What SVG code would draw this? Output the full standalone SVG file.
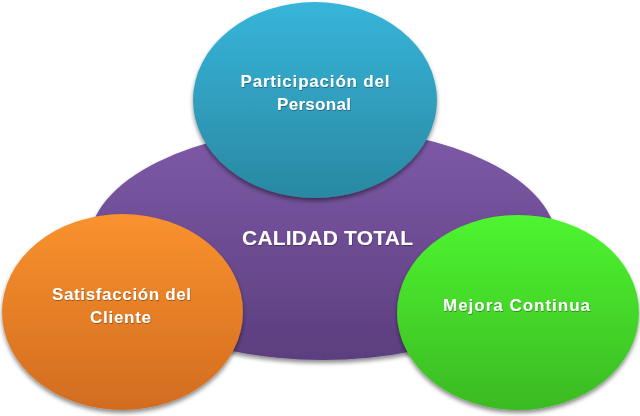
<svg xmlns="http://www.w3.org/2000/svg" width="640" height="416" viewBox="0 0 640 416">
<defs>
<linearGradient id="gPurple" x1="0" y1="0" x2="0" y2="1"><stop offset="0" stop-color="#7E5AA8"/><stop offset="1" stop-color="#5C3E7E"/></linearGradient>
<linearGradient id="gBlue" x1="0" y1="0" x2="0" y2="1"><stop offset="0" stop-color="#37B5DA"/><stop offset="1" stop-color="#2A88A2"/></linearGradient>
<linearGradient id="gOrange" x1="0" y1="0" x2="0" y2="1"><stop offset="0" stop-color="#F9922E"/><stop offset="1" stop-color="#D26C1F"/></linearGradient>
<linearGradient id="gGreen" x1="0" y1="0" x2="0" y2="1"><stop offset="0" stop-color="#4EF530"/><stop offset="1" stop-color="#3BBA23"/></linearGradient>
<filter id="sh" x="-10%" y="-10%" width="120%" height="125%"><feDropShadow dx="0" dy="3" stdDeviation="2" flood-color="#000" flood-opacity="0.45"/></filter>
<filter id="tsh" x="-5%" y="-20%" width="110%" height="150%"><feDropShadow dx="0.5" dy="1" stdDeviation="0.6" flood-color="#000" flood-opacity="0.35"/></filter>
</defs>
<style>
text{font-family:"Liberation Sans",Arial,sans-serif;font-weight:bold;fill:#FFFFFF;text-anchor:middle;filter:url(#tsh)}
.s{font-size:17px}
.b{font-size:21px}
</style>
<g id="calidad-total">
<ellipse cx="323" cy="244" rx="234" ry="116" fill="url(#gPurple)" filter="url(#sh)"/>
<text class="b" x="327.5" y="245" textLength="171">CALIDAD TOTAL</text>
</g>
<g id="participacion">
<ellipse cx="315" cy="100" rx="122" ry="98" fill="url(#gBlue)" filter="url(#sh)"/>
<text class="s" x="315" y="87" textLength="149">Participación del</text>
<text class="s" x="314" y="110" textLength="74">Personal</text>
</g>
<g id="satisfaccion">
<ellipse cx="122.5" cy="312" rx="120.5" ry="98" fill="url(#gOrange)" filter="url(#sh)"/>
<text class="s" x="121.5" y="300" textLength="139">Satisfacción del</text>
<text class="s" x="120.5" y="323" textLength="61">Cliente</text>
</g>
<g id="mejora">
<ellipse cx="518" cy="312.5" rx="121" ry="97.5" fill="url(#gGreen)" filter="url(#sh)"/>
<text class="s" x="516.5" y="311" textLength="147">Mejora Continua</text>
</g>
<g id="connectors"/>
</svg>
